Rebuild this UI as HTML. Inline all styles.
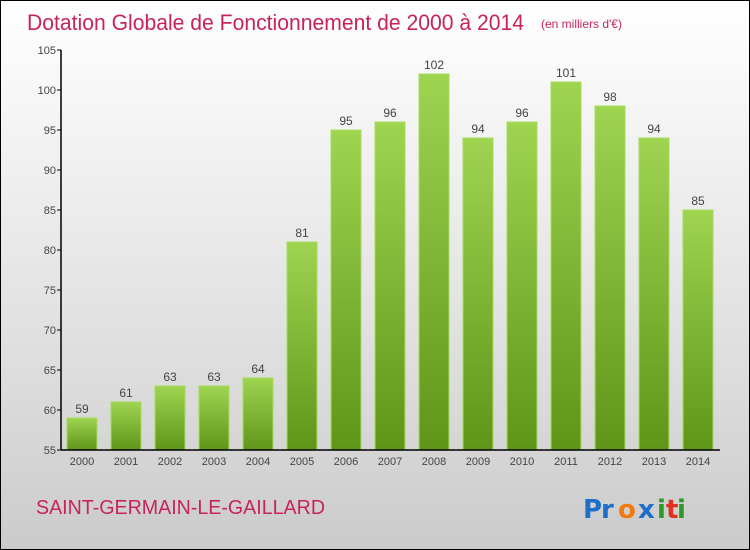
<!DOCTYPE html>
<html><head><meta charset="utf-8"><style>
html,body{margin:0;padding:0;}
body{width:750px;height:550px;overflow:hidden;font-family:"Liberation Sans",sans-serif;}
#frame{position:absolute;left:0;top:0;width:748px;height:548px;border:1px solid #000;background:linear-gradient(#ffffff 0%,#f0f0f0 30%,#d9d9d9 75%,#cbcbcb 100%);}
</style></head><body>
<div id="frame">
<svg width="750" height="550" style="position:absolute;left:-1px;top:-1px" id="svg">
<defs>
<linearGradient id="bg" x1="0" y1="0" x2="0" y2="1"><stop offset="0" stop-color="#9fd451"/><stop offset="1" stop-color="#5f9618"/></linearGradient>
</defs>
<text x="27" y="30" font-size="22" fill="#c8245a" textLength="497" lengthAdjust="spacingAndGlyphs">Dotation Globale de Fonctionnement de 2000 à 2014</text>
<text x="541" y="28" font-size="12" fill="#c8245a">(en milliers d'€)</text>
<g id="plot"></g>
<text x="36" y="514" font-size="20" fill="#c8245a" textLength="289" lengthAdjust="spacingAndGlyphs">SAINT-GERMAIN-LE-GAILLARD</text>
<g font-size="26" font-weight="bold" font-family="'DejaVu Sans',sans-serif">
<text x="583" y="518" fill="#1e6fc8">P</text><text x="601" y="518" fill="#1e6fc8">r</text><text x="618" y="518" fill="#f07a10">o</text><text x="638" y="518" fill="#1e6fc8">x</text><text x="657" y="518" fill="#2a9a2a">i</text><text x="666" y="518" fill="#e03020">t</text><text x="677" y="518" fill="#2a9a2a">i</text>
</g>
</svg>
</div>
<script>
const years=["2000","2001","2002","2003","2004","2005","2006","2007","2008","2009","2010","2011","2012","2013","2014"];
const values=[59,61,63,63,64,81,95,96,102,94,96,101,98,94,85];
const yTicks=[55,60,65,70,75,80,85,90,95,100,105];
const NS="http://www.w3.org/2000/svg";
const g=document.getElementById('plot');
const yMin=55,yMax=105,plotTop=50,plotBot=450,plotLeft=61,plotRight=720;
const y=v=>plotBot-(v-yMin)/(yMax-yMin)*(plotBot-plotTop);
const step=44,x0=67,bw=30;
const x=i=>x0+i*step;
function mk(t,a){const e=document.createElementNS(NS,t);for(const k in a)e.setAttribute(k,a[k]);g.appendChild(e);return e;}
values.forEach((v,i)=>{
 const r=mk('rect',{x:x(i),y:y(v),width:bw,height:plotBot-y(v),fill:'url(#bg)',stroke:'#a8dc5c','stroke-width':1});
 
 
 const t=mk('text',{x:x(i)+bw/2,y:y(v)-5,'font-size':12,fill:'#444','text-anchor':'middle'});
 t.textContent=v;
 
 
 const xl=mk('text',{x:x(i)+bw/2,y:plotBot+15,'font-size':11,fill:'#444','text-anchor':'middle'});
 xl.textContent=years[i];
 
 
});
yTicks.forEach(v=>{
 mk('line',{x1:plotLeft-4,x2:plotLeft,y1:y(v),y2:y(v),stroke:'#000'});
 const t=mk('text',{x:plotLeft-5,y:y(v)+4,'font-size':11,fill:'#444','text-anchor':'end'});
 t.textContent=v;
 
 
});
const ya=mk('line',{x1:plotLeft,x2:plotLeft,y1:plotTop,y2:plotBot,stroke:'#000','stroke-width':1.5});


const xa=mk('line',{x1:plotLeft,x2:plotRight,y1:plotBot,y2:plotBot,stroke:'#000','stroke-width':1.5});


</script>
</body></html>
